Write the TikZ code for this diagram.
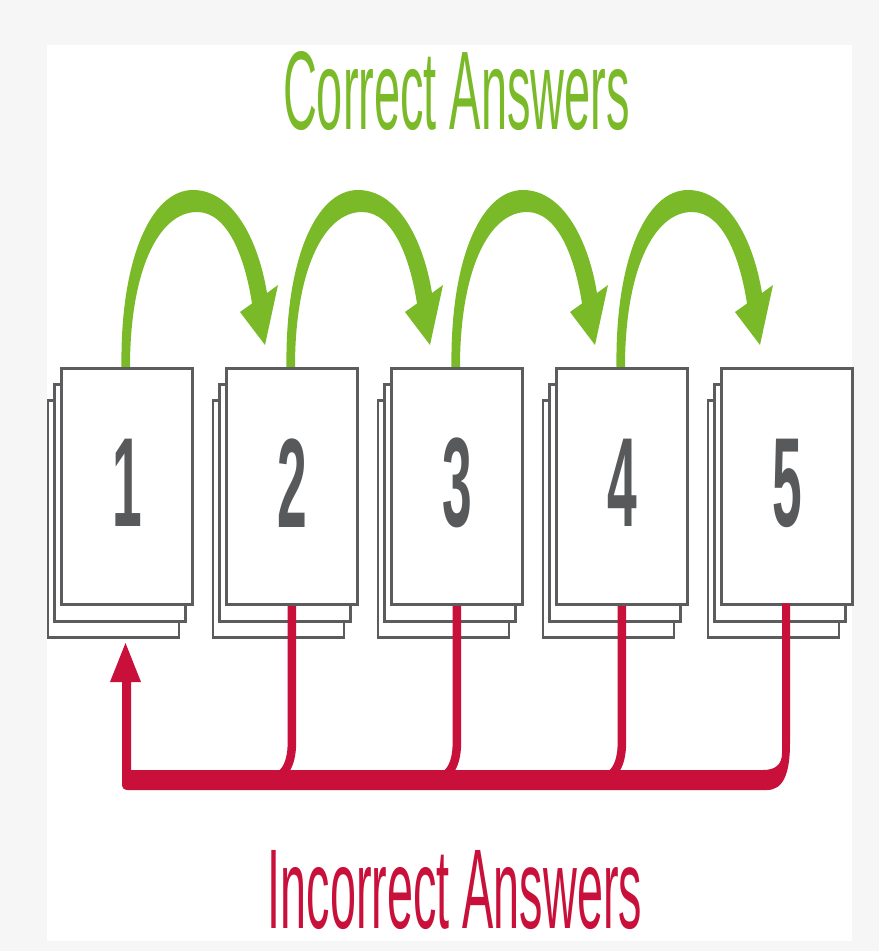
\documentclass[tikz,border=0pt]{standalone}
\usepackage{fontspec}
\setmainfont{Liberation Sans}
\usepackage{graphicx}
\usetikzlibrary{calc}
\definecolor{cgreen}{RGB}{122,186,40}
\definecolor{cred}{RGB}{200,16,58}
\definecolor{cgray}{RGB}{92,92,94}
\definecolor{cnum}{RGB}{88,89,91}
\definecolor{cbg}{RGB}{246,246,246}
\tikzset{
  card/.style={draw=cgray, line width=2.9pt, fill=white, minimum width=131pt,
    minimum height=236.6pt, inner sep=0pt, anchor=north west},
  num/.style={text=cnum, inner sep=0pt, font=\fontsize{127}{127}\selectfont\bfseries},
  redline/.style={draw=cred, line width=8.5pt},
  titletext/.style={inner sep=0pt, anchor=center}
}
\begin{document}
\begin{tikzpicture}[x=1pt,y=-1pt]
\useasboundingbox (0,0) rectangle (879,951);
\fill[cbg] (0,0) rectangle (879,951);
\fill[white] (47,45) rectangle (852,941);
% titles
\node[titletext, text=cgreen] (ct) at (456.5,91) {\resizebox{347pt}{78pt}{Correct Answers}};
\node[titletext, text=cred] (it) at (455,890) {\resizebox{374pt}{78pt}{Incorrect Answers}};
% green arrows (drawn first, under the cards)
\foreach \i in {0,1,2,3}{
  \fill[cgreen, shift={(165*\i,0)}] (121.5,367) .. controls (120,262) and (150,190) .. (193,190)
    .. controls (232,190) and (258,238) .. (267,293) -- (278,285) -- (265,345) -- (240,312)
    -- (252,303.5) .. controls (245,258) and (228,212) .. (197,212)
    .. controls (158,212) and (130,272) .. (130,367) -- cycle;
}
% cards
\foreach \i/\n in {0/1,1/2,2/3,3/4,4/5}{
  \pgfmathsetmacro\xx{60+165*\i}
  \node[card] (b\n) at (\xx-13.5,399.3) {};
  \node[card] (m\n) at (\xx-6.8,383.3) {};
  \node[card] (f\n) at (\xx,366.7) {};
  \node[num, yshift=3.5pt] (t\n) at (f\n.center) {\scalebox{0.42}[1]{\n}};
}
% red return path
\fill[cred] (122,682) -- (122,784) .. controls (122,788) and (124,790) .. (128,790)
  -- (767,790) .. controls (784,790) and (790,772) .. (790,743) -- (790,603.3)
  -- (782,603.3) -- (782,753) .. controls (782,764) and (776,770) .. (763,770)
  -- (131,770) -- (131,682) -- (141,682) -- (125.5,643) -- (110,682) -- cycle;
\foreach \n in {2,3,4}{
  \draw[redline] (f\n.south) -- ($(f\n.south)+(0,135)$)
    .. controls ($(f\n.south)+(0,163)$) and ($(f\n.south)+(-10,173)$) .. ($(f\n.south)+(-30,176)$);
}
\end{tikzpicture}
\end{document}
